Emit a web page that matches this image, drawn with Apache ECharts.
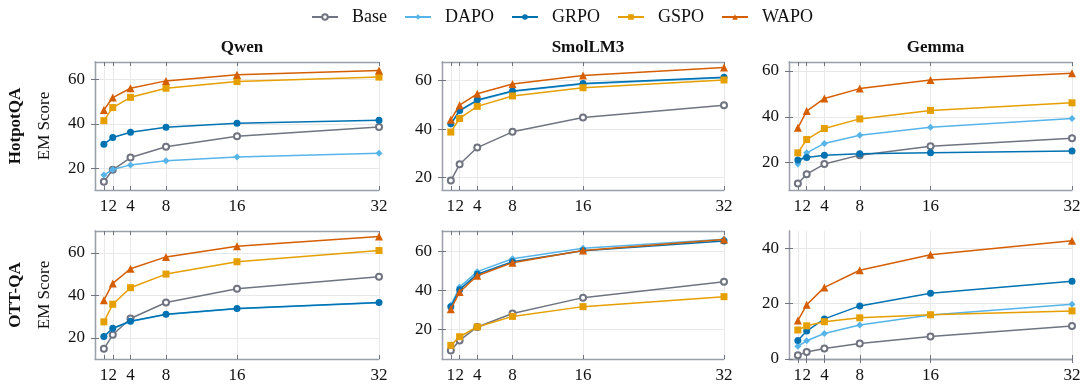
<!DOCTYPE html>
<html>
<head>
<meta charset="utf-8">
<script src="https://cdn.jsdelivr.net/npm/echarts@6/dist/echarts.min.js"></script>
<style>html,body{margin:0;padding:0;background:#fff;}#c{width:1085px;height:388px;}</style>
</head>
<body>
<div id="c"></div>
<script>
// ---- data ----
const budgets = [1, 2, 4, 8, 16, 32];
const xTickValues = [1, 2, 4, 8, 16, 32];
const methods = ['Base', 'DAPO', 'GRPO', 'GSPO', 'WAPO'];
const models = ['Qwen', 'SmolLM3', 'Gemma'];
const datasets = ['HotpotQA', 'OTT-QA'];

// each panel: rows in order Base, DAPO, GRPO, GSPO, WAPO
const qwenHotpot = [
  [13.9, 19.3, 24.8, 29.7, 34.4, 38.6],
  [16.9, 19.4, 21.5, 23.4, 25.1, 26.7],
  [30.8, 33.8, 36.2, 38.4, 40.2, 41.6],
  [41.4, 47.3, 51.9, 56.0, 59.0, 61.0],
  [46.2, 51.8, 56.0, 59.3, 62.1, 64.0]
];
const smolHotpot = [
  [18.8, 25.5, 32.4, 38.9, 44.8, 49.9],
  [42.0, 47.5, 51.8, 55.5, 58.6, 61.2],
  [42.2, 47.7, 52.0, 55.7, 58.8, 61.4],
  [38.8, 44.4, 49.4, 53.7, 57.1, 60.3],
  [43.9, 49.9, 54.6, 58.6, 62.1, 65.4]
];
const gemmaHotpot = [
  [10.9, 15.0, 19.4, 23.3, 27.2, 30.7],
  [19.4, 24.3, 28.4, 32.0, 35.5, 39.3],
  [21.2, 22.3, 23.2, 23.9, 24.3, 25.1],
  [24.3, 30.1, 34.9, 39.1, 42.8, 46.1],
  [35.2, 42.5, 48.0, 52.3, 56.1, 59.0]
];
const qwenOtt = [
  [14.8, 21.4, 29.1, 36.6, 43.1, 48.8],
  [20.6, 24.4, 27.7, 31.0, 33.7, 36.5],
  [20.6, 24.5, 27.8, 31.1, 33.8, 36.6],
  [27.5, 35.8, 43.6, 50.0, 55.8, 61.1],
  [37.7, 45.6, 52.5, 58.1, 63.1, 67.7]
];
const smolOtt = [
  [9.1, 14.3, 21.2, 28.1, 36.2, 44.3],
  [32.3, 41.6, 49.5, 56.1, 61.5, 66.1],
  [31.5, 40.3, 48.2, 54.6, 60.2, 65.2],
  [11.8, 16.2, 21.2, 26.6, 31.6, 36.7],
  [30.2, 39.1, 47.4, 54.1, 60.3, 65.9]
];
const gemmaOtt = [
  [1.4, 2.5, 3.8, 5.6, 8.1, 11.9],
  [4.6, 6.6, 9.2, 12.3, 15.9, 19.8],
  [6.7, 10.1, 14.5, 19.2, 23.8, 28.1],
  [10.5, 12.0, 13.5, 14.9, 16.0, 17.4],
  [13.9, 19.6, 25.9, 32.1, 37.7, 42.8]
];
const yTicksTop = [20, 40, 60];
const yTicksGemmaOtt = [0, 20, 40];

// ---- layout / styles ----
const panels = [
  {data: qwenHotpot, row: 0, col: 0, ymin: 10.2, ymax: 67.8, yt: yTicksTop},
  {data: smolHotpot, row: 0, col: 1, ymin: 14.9, ymax: 67.7, yt: yTicksTop},
  {data: gemmaHotpot, row: 0, col: 2, ymin: 8.1, ymax: 63.9, yt: yTicksTop},
  {data: qwenOtt, row: 1, col: 0, ymin: 10.0, ymax: 70.3, yt: yTicksTop},
  {data: smolOtt, row: 1, col: 1, ymin: 4.8, ymax: 70.3, yt: yTicksTop},
  {data: gemmaOtt, row: 1, col: 2, ymin: 0, ymax: 46.3, yt: yTicksGemmaOtt}
];
const colLeft = [95, 442, 789];
const colWidth = [284, 282, 283];
const rowTop = [62, 231];
const rowHeight = 128;
const FONT = 'Liberation Serif';
const frameColor = '#9aa0aa';
const tickColor = '#70757f';
const colors = ['#6f7480', '#56B4E9', '#0072B2', '#E69F00', '#D55E00'];
const symbols = ['emptyCircle', 'diamond', 'circle', 'rect', 'triangle'];
const symbolSizes = [6, 7, 7, 7, 8];

const grids = [], xAxes = [], yAxes = [], series = [], titles = [];
panels.forEach((p, i) => {
  grids.push({left: colLeft[p.col], top: rowTop[p.row], width: colWidth[p.col], height: rowHeight, containLabel: false});
  const baseX = {
    type: 'value', gridIndex: i, min: 0, max: 32,
    axisLine: {show: true, lineStyle: {color: frameColor, width: 1.3}},
    axisTick: {show: true, inside: true, length: 4, customValues: xTickValues, lineStyle: {color: tickColor, width: 1}},
  };
  xAxes.push(Object.assign({}, baseX, {
    position: 'bottom',
    axisLabel: {show: true, customValues: xTickValues, hideOverlap: false, fontFamily: FONT, fontSize: 17, color: '#111', margin: 8},
    splitLine: {show: true, lineStyle: {color: '#e8e8e8', width: 1}}
  }));
  xAxes.push(Object.assign({}, baseX, {
    position: 'top',
    axisLabel: {show: false},
    splitLine: {show: false}
  }));
  const baseY = {
    type: 'value', gridIndex: i, min: p.ymin, max: p.ymax,
    axisLine: {show: true, lineStyle: {color: frameColor, width: 1.3}},
    axisTick: {show: true, inside: true, length: 4, customValues: p.yt, lineStyle: {color: tickColor, width: 1}},
  };
  const leftY = Object.assign({}, baseY, {
    position: 'left',
    axisLabel: {show: true, customValues: p.yt, hideOverlap: false, fontFamily: FONT, fontSize: 17, color: '#111', margin: 10},
    splitLine: {show: true, lineStyle: {color: '#e8e8e8', width: 1}}
  });
  if (p.col === 0) {
    leftY.name = '{b|' + datasets[p.row] + '}\n{n|EM Score}';
    leftY.nameLocation = 'middle';
    leftY.nameRotate = 90;
    leftY.nameGap = 36;
    leftY.nameTextStyle = {
      fontFamily: FONT, color: '#111',
      rich: {
        b: {fontFamily: FONT, fontWeight: 'bold', fontSize: 17, lineHeight: 29, color: '#111'},
        n: {fontFamily: FONT, fontSize: 17, lineHeight: 29, color: '#111'}
      }
    };
  }
  yAxes.push(leftY);
  yAxes.push(Object.assign({}, baseY, {
    position: 'right',
    axisLabel: {show: false},
    splitLine: {show: false}
  }));
  p.data.forEach((vals, m) => {
    series.push({
      name: methods[m], type: 'line', xAxisIndex: 2 * i, yAxisIndex: 2 * i,
      data: budgets.map((b, k) => [b, vals[k]]),
      symbol: symbols[m], symbolSize: symbolSizes[m], showSymbol: true,
      lineStyle: {color: colors[m], width: 1.5},
      itemStyle: {color: colors[m], borderColor: colors[m], borderWidth: m === 0 ? 1.5 : 0},
      z: 2 + m, animation: false
    });
  });
  if (p.row === 0) {
    titles.push({
      text: models[p.col], left: colLeft[p.col] + colWidth[p.col] / 2, top: 34, textAlign: 'center',
      textStyle: {fontFamily: FONT, fontWeight: 'bold', fontSize: 17, color: '#111'}
    });
  }
});

const chart = echarts.init(document.getElementById('c'), null, {renderer: 'canvas'});
chart.setOption({
  animation: false,
  backgroundColor: '#fff',
  title: titles,
  legend: {
    data: methods, top: 3, left: 306, itemWidth: 26, itemHeight: 7, itemGap: 17,
    textStyle: {fontFamily: FONT, fontSize: 18, color: '#111', padding: [0, 0, 0, 9]}
  },
  grid: grids, xAxis: xAxes, yAxis: yAxes, series: series
});
</script>
</body>
</html>
